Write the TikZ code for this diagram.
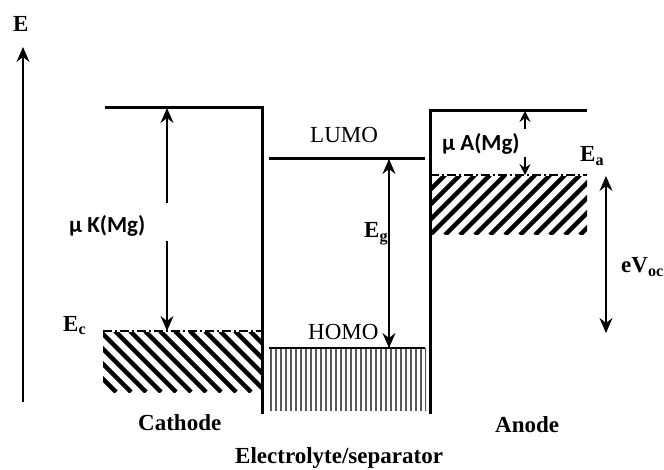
\documentclass[tikz,border=0pt]{standalone}
\usepackage{fontspec}
\setmainfont{Liberation Serif}
\newfontfamily\labsans{Carlito}
\usetikzlibrary{arrows.meta}
\begin{document}
\begin{tikzpicture}[x=1pt,y=-1pt,
  level/.style={line width=3pt},
  wall/.style={line width=3pt},
  fermi/.style={line width=2.6pt,dash pattern=on 9pt off 3pt on 2pt off 3pt},
  bighead/.style={-{Stealth[length=15pt,width=13pt,inset=5pt]}},
  arr/.style={line width=1.4pt,bighead},
  darr/.style={line width=1.4pt,{Stealth[length=15pt,width=13pt,inset=5pt]}-{Stealth[length=15pt,width=13pt,inset=5pt]}},
  smallarr/.style={line width=1.4pt,-{Stealth[length=11pt,width=11pt,inset=4pt]}},
  hatch/.style={line width=4.4pt},
  vhatch/.style={line width=1.5pt,black!65},
  bold/.style={font=\fontsize{23}{27}\selectfont\bfseries, inner sep=0pt, anchor=base west},
  reg/.style={font=\fontsize{23}{27}\selectfont, inner sep=0pt, anchor=base west},
  sans/.style={font=\labsans\fontsize{23}{27}\selectfont\bfseries, inner sep=0pt, anchor=base west}]
\useasboundingbox (0,0) rectangle (664,470);
% energy axis
\coordinate (axb) at (23,402);
\coordinate (axt) at (23,47);
\draw[arr] (axb) -- (axt);
\node[bold] (E) at (13,32) {E};
% cathode
\coordinate (ct1) at (105,108);
\coordinate (ct2) at (262,108);
\coordinate (cb) at (262,414);
\draw[wall] (ct1) -- (ct2) -- (cb);
% anode
\coordinate (at1) at (587,111);
\coordinate (at2) at (430,111);
\coordinate (ab) at (430,414);
\draw[wall] (at1) -- (at2) -- (ab);
% LUMO
\coordinate (l1) at (269,159);
\coordinate (l2) at (425,159);
\draw[level] (l1) -- (l2);
\node[reg] (lumo) at (310,143) {LUMO};
% HOMO band
\begin{scope}
\clip (269,348) rectangle (426,411);
\foreach \x in {271,276,...,426} \draw[vhatch] (\x,348) -- (\x,411);
\end{scope}
\coordinate (h1) at (269,348);
\coordinate (h2) at (425,348);
\draw[line width=1.5pt] (h1) -- (h2);
\node[reg] (homo) at (308,340) {HOMO};
% cathode band
\begin{scope}
\clip (103,333) rectangle (261,392);
\foreach \x in {25,40,...,265} \draw[hatch] (\x,331) -- (\x+61,392);
\end{scope}
\coordinate (cf1) at (103,331);
\coordinate (cf2) at (262,331);
\draw[fermi] (cf1) -- (cf2);
\node[bold] (Ec) at (63,331) {E\textsubscript{c}};
% anode band
\begin{scope}
\clip (431,177) rectangle (587,235);
\foreach \x in {370,385,...,590} \draw[hatch] (\x,235) -- (\x+60,175);
\end{scope}
\coordinate (af1) at (430,175);
\coordinate (af2) at (587,175);
\draw[fermi] (af1) -- (af2);
\node[bold] (Ea) at (580,162) {E\textsubscript{a}};
% mu K arrow
\coordinate (k1) at (167,203);
\coordinate (k2) at (167,241);
\coordinate (kt) at (167,108);
\coordinate (kb) at (167,331);
\draw[arr] (k1) -- (kt);
\draw[arr] (k2) -- (kb);
\node[sans] (muK) at (69,233) {μ K(Mg)};
% Eg arrow
\coordinate (gt) at (389,159);
\coordinate (gb) at (389,348);
\draw[darr] (gb) -- (gt);
\node[bold] (Eg) at (364,238) {E\textsubscript{g}};
% mu A arrows
\coordinate (a1) at (525,129);
\coordinate (a2) at (525,111);
\coordinate (a3) at (525,157);
\coordinate (a4) at (525,175);
\draw[smallarr] (a1) -- (a2);
\draw[smallarr] (a3) -- (a4);
\node[sans] (muA) at (442,151) {μ A(Mg)};
% eVoc arrow
\coordinate (v1) at (606,176);
\coordinate (v2) at (606,333);
\draw[darr] (v1) -- (v2);
\node[bold] (Voc) at (621,273) {eV\textsubscript{oc}};
% labels
\node[bold] (cath) at (138,430) {Cathode};
\node[bold] (ano) at (495,432) {Anode};
\node[bold] (elec) at (235,463) {Electrolyte/separator};
\end{tikzpicture}
\end{document}
